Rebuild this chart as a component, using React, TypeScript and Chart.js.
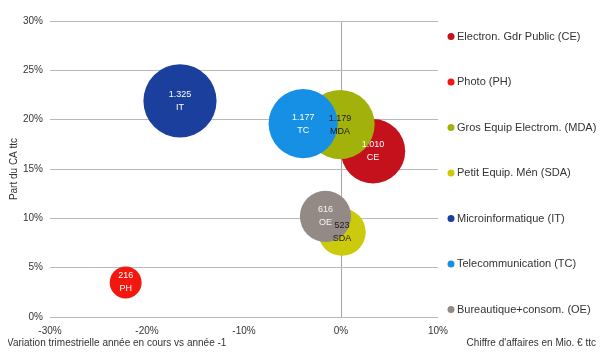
import { useEffect, useRef } from 'react';
import { Chart, registerables } from 'chart.js';

Chart.register(...registerables);

const categories = [
  'Electron. Gdr Public (CE)',
  'Photo (PH)',
  'Gros Equip Electrom. (MDA)',
  'Petit Equip. Mén (SDA)',
  'Microinformatique (IT)',
  'Telecommunication (TC)',
  'Bureautique+consom. (OE)',
];
const codes = ['CE', 'PH', 'MDA', 'SDA', 'IT', 'TC', 'OE'];
const variation = [3.3, -22.2, -0.1, 0.1, -16.6, -3.9, -1.6];
const share = [16.8, 3.5, 19.5, 8.6, 21.9, 19.6, 10.2];
const sales = [1010, 216, 1179, 523, 1325, 1177, 616];
const salesLabels = ['1.010', '216', '1.179', '523', '1.325', '1.177', '616'];
const xAxisTitle = 'Variation trimestrielle année en cours vs année -1';
const sizeTitle = "Chiffre d'affaires en Mio. € ttc";
const yAxisTitle = 'Part du CA ttc';

const bubbleColors = ['#c4111c', '#f2170f', '#a3b20b', '#cbca0c', '#1b3f9c', '#1590e4', '#948a85'];
const labelColors = ['#ffffff', '#ffffff', '#1a1a1a', '#1a1a1a', '#ffffff', '#ffffff', '#f4f4f4'];
const FONT = '"Liberation Sans", Arial, sans-serif';

const radiusOf = (v: number) => Math.sqrt(v) * 0.95 + 2;

const bubbleLabels = {
  id: 'bubbleLabels',
  afterDatasetsDraw(chart: any) {
    const ctx = chart.ctx;
    ctx.save();
    ctx.font = `9px ${FONT}`;
    ctx.textAlign = 'center';
    ctx.textBaseline = 'middle';
    chart.data.datasets.forEach((ds: any, i: number) => {
      const meta = chart.getDatasetMeta(i);
      const el = meta.data[0];
      if (!el) return;
      ctx.fillStyle = labelColors[i];
      ctx.fillText(salesLabels[i], el.x, el.y - 6.5);
      ctx.fillText(codes[i], el.x, el.y + 6.5);
    });
    ctx.restore();
  },
};

const customLegend = {
  id: 'customLegend',
  afterDraw(chart: any) {
    const ctx = chart.ctx;
    ctx.save();
    ctx.font = `11px ${FONT}`;
    ctx.textAlign = 'left';
    ctx.textBaseline = 'middle';
    chart.data.datasets.forEach((ds: any, i: number) => {
      const y = 28.5 + i * 45.5;
      ctx.fillStyle = bubbleColors[i];
      ctx.beginPath();
      ctx.arc(443, y, 3.5, 0, Math.PI * 2);
      ctx.fill();
      ctx.fillStyle = '#333333';
      ctx.fillText(ds.label, 449, y);
    });
    ctx.font = `10px ${FONT}`;
    ctx.fillStyle = '#333333';
    ctx.textAlign = 'left';
    ctx.fillText(xAxisTitle, -1, 335);
    ctx.textAlign = 'right';
    ctx.fillText(sizeTitle, 588, 335);
    ctx.restore();
  },
};

export default function App() {
  const ref = useRef<HTMLCanvasElement>(null);
  useEffect(() => {
    if (!ref.current) return;
    const chart = new Chart(ref.current, {
      type: 'bubble',
      data: {
        datasets: categories.map((c, i) => ({
          label: c,
          data: [{ x: variation[i], y: share[i], r: radiusOf(sales[i]) }],
          backgroundColor: bubbleColors[i],
          borderWidth: 0,
          hoverRadius: 0,
          order: categories.length - 1 - i,
        })),
      },
      options: {
        responsive: false,
        animation: false,
        events: [],
        layout: { autoPadding: false, padding: { top: 11, right: 158, left: 0, bottom: 0 } },
        plugins: {
          legend: { display: false },
          tooltip: { enabled: false },
        },
        scales: {
          x: {
            type: 'linear',
            min: -30,
            max: 10,
            ticks: {
              stepSize: 10,
              callback: (v: any) => `${v}%`,
              font: { size: 10, family: FONT },
              color: '#333333',
              padding: 8,
              maxRotation: 0,
            },
            grid: {
              color: (c: any) => (c.tick && c.tick.value === 0 ? '#a6a6a6' : 'rgba(0,0,0,0)'),
              drawTicks: false,
            },
            border: { display: false },
            afterFit: (s: any) => {
              s.height = 32;
            },
          },
          y: {
            type: 'linear',
            min: 0,
            max: 30,
            ticks: {
              stepSize: 5,
              callback: (v: any) => `${v}%`,
              font: { size: 10, family: FONT },
              color: '#333333',
              padding: 7,
            },
            grid: { color: '#b8b8b8', drawTicks: false },
            border: { display: false },
            title: {
              display: true,
              text: yAxisTitle,
              font: { size: 10, family: FONT },
              color: '#333333',
              padding: { top: 0, bottom: 0 },
            },
            afterFit: (s: any) => {
              s.width = 42;
            },
          },
        },
      },
      plugins: [bubbleLabels, customLegend],
    } as any);
    return () => chart.destroy();
  }, []);
  return <canvas ref={ref} width={588} height={341} style={{ display: 'block' }} />;
}
